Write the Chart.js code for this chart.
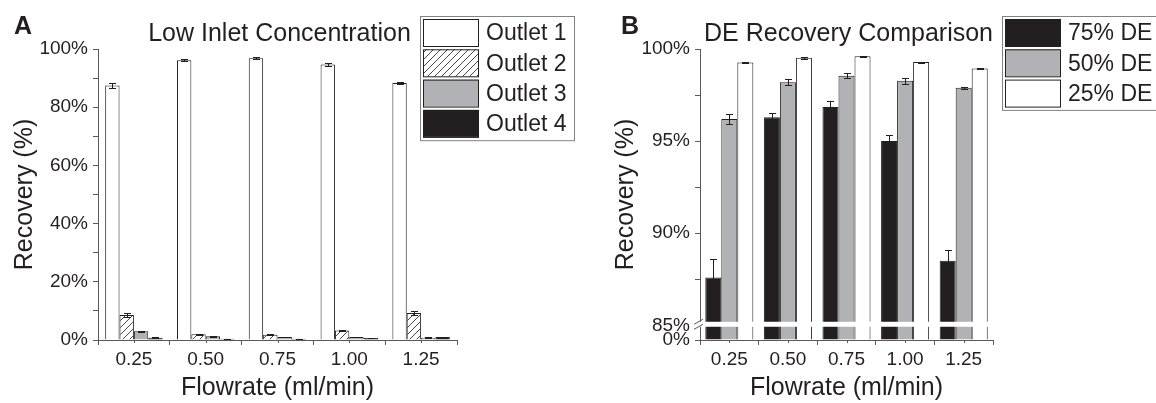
<!DOCTYPE html>
<html lang="en">
<head>
    <meta charset="UTF-8">
    <title>Recovery vs Flowrate</title>
    <script src="https://cdn.jsdelivr.net/npm/chart.js"></script>
    <style>
        body {
            margin: 0;
            background: #fff;
        }
        .panel {
            position: absolute;
            top: 0;
            width: 578px;
            height: 403px;
        }
        #panel-a { left: 0; }
        #panel-b { left: 578px; }
    </style>
</head>
<body>
    <div class="panel" id="panel-a"><canvas id="chart-a" width="578" height="403"></canvas></div>
    <div class="panel" id="panel-b"><canvas id="chart-b" width="578" height="403"></canvas></div>

    <script>
        // categories (flowrate, ml/min)
        const flowrates = ['0.25', '0.50', '0.75', '1.00', '1.25'];

        // panel A - low inlet concentration, recovery (%) per outlet
        const outlet1 = [87.5, 96.1, 96.8, 94.7, 88.3];
        const outlet1Err = [0.9, 0.3, 0.4, 0.4, 0.4];
        const outlet2 = [8.6, 2.0, 1.8, 3.3, 9.3];
        const outlet2Err = [0.8, 0.2, 0.2, 0.3, 0.7];
        const outlet3 = [3.0, 1.3, 1.0, 1.0, 0.8];
        const outlet3Err = [0.2, 0.1, 0.1, 0.1, 0.1];
        const outlet4 = [0.8, 0.4, 0.4, 0.7, 1.0];
        const outlet4Err = [0.1, 0.1, 0.1, 0.1, 0.1];

        // panel B - DE recovery comparison (%)
        const de75 = [87.6, 96.3, 96.85, 95.0, 88.5];
        const de75Err = [1.0, 0.2, 0.35, 0.35, 0.6];
        const de50 = [96.2, 98.2, 98.55, 98.27, 97.9];
        const de50Err = [0.25, 0.15, 0.15, 0.15, 0.05];
        const de25 = [99.27, 99.53, 99.6, 99.29, 98.94];
        const de25Err = [0.03, 0.05, 0.02, 0.03, 0.04];

        // broken axis in B: bottom value stands for 0%
        const bAxisMin = 84.2;
        const bTicks = [84.2, 85, 87.5, 90, 92.5, 95, 97.5, 100];

        const FONT = '"Liberation Sans", Arial, sans-serif';
        const INK = '#231f20';
        const AXIS = '#58595b';
        const GREY = '#b1b2b5';

        Chart.defaults.font.family = FONT;
        Chart.defaults.color = INK;

        // diagonal hatch for Outlet 2
        function makeHatch() {
            const c = document.createElement('canvas');
            c.width = 7; c.height = 7;
            const g = c.getContext('2d');
            g.fillStyle = '#fff';
            g.fillRect(0, 0, 7, 7);
            g.strokeStyle = '#333';
            g.lineWidth = 0.9;
            g.beginPath();
            g.moveTo(0, 7); g.lineTo(7, 0);
            g.moveTo(-1, 1); g.lineTo(1, -1);
            g.moveTo(6, 8); g.lineTo(8, 6);
            g.stroke();
            return g.createPattern(c, 'repeat');
        }
        const hatch = makeHatch();

        const errorBars = {
            id: 'errorBars',
            afterDatasetsDraw(chart) {
                const ctx = chart.ctx;
                const y = chart.scales.y;
                ctx.save();
                ctx.strokeStyle = INK;
                ctx.lineWidth = 1;
                chart.data.datasets.forEach((ds, i) => {
                    const meta = chart.getDatasetMeta(i);
                    meta.data.forEach((bar, j) => {
                        const v = ds.data[j], e = ds.errors[j];
                        const yt = Math.round(y.getPixelForValue(v + e)) + 0.5;
                        const yb = Math.round(y.getPixelForValue(v - e)) + 0.5;
                        const x = Math.round(bar.x) + 0.5;
                        ctx.beginPath();
                        ctx.moveTo(x, yt); ctx.lineTo(x, yb);
                        ctx.moveTo(x - 3.5, yt); ctx.lineTo(x + 3.5, yt);
                        ctx.moveTo(x - 3.5, yb); ctx.lineTo(x + 3.5, yb);
                        ctx.stroke();
                    });
                });
                ctx.restore();
            }
        };

        // small ticks under each category centre
        const centreTicks = {
            id: 'centreTicks',
            afterDraw(chart) {
                const ctx = chart.ctx, xs = chart.scales.x;
                const b = chart.chartArea.bottom;
                ctx.save();
                ctx.strokeStyle = AXIS;
                ctx.lineWidth = 1;
                chart.data.labels.forEach((l, i) => {
                    const x = Math.round(xs.getPixelForValue(i)) + 0.5;
                    ctx.beginPath();
                    ctx.moveTo(x, b); ctx.lineTo(x, b + 3);
                    ctx.stroke();
                });
                ctx.restore();
            }
        };

        // panel letter, title and boxed legend
        const panelDecor = {
            id: 'panelDecor',
            afterDraw(chart, args, opts) {
                const ctx = chart.ctx, ca = chart.chartArea;
                ctx.save();
                ctx.fillStyle = INK;
                ctx.textBaseline = 'alphabetic';
                ctx.font = 'bold 25px ' + FONT;
                ctx.textAlign = 'left';
                ctx.fillText(opts.letter, opts.letterX, 34);
                ctx.font = '25px ' + FONT;
                ctx.textAlign = 'center';
                ctx.fillText(opts.title, (ca.left + ca.right) / 2 + 2, 41);

                // legend
                const dsets = chart.data.datasets;
                const lx = ca.right + opts.legendDx, ly = 16;
                const rowH = 30.3;
                const boxW = opts.legendW, boxH = dsets.length * rowH + 3;
                ctx.strokeStyle = '#808285';
                ctx.lineWidth = 1;
                ctx.strokeRect(lx + 0.5, ly + 0.5, boxW, boxH);
                ctx.font = '23px ' + FONT;
                ctx.textAlign = 'left';
                ctx.textBaseline = 'middle';
                dsets.forEach((ds, i) => {
                    const sy = ly + 3 + i * rowH;
                    ctx.fillStyle = ds.backgroundColor;
                    ctx.fillRect(lx + 3, sy, 55, 27);
                    ctx.strokeStyle = INK;
                    ctx.strokeRect(lx + 3.5, sy + 0.5, 55, 27);
                    ctx.fillStyle = INK;
                    ctx.fillText(ds.label, lx + 66, sy + 15);
                });
                ctx.restore();
            }
        };

        // white gap and slashes marking the broken axis
        const axisBreak = {
            id: 'axisBreak',
            afterDraw(chart) {
                const ctx = chart.ctx, ca = chart.chartArea;
                const p = chart.scales.y.getPixelForValue(85);
                ctx.save();
                ctx.fillStyle = '#fff';
                ctx.fillRect(ca.left - 5, p - 3.5, ca.right - ca.left + 6, 5);
                ctx.strokeStyle = AXIS;
                ctx.lineWidth = 1;
                ctx.beginPath();
                ctx.moveTo(ca.left - 6, p - 1); ctx.lineTo(ca.left + 3, p - 6);
                ctx.moveTo(ca.left - 6, p + 4); ctx.lineTo(ca.left + 3, p - 1);
                ctx.stroke();
                ctx.restore();
            }
        };

        function barSet(label, data, errors, color) {
            return {
                label: label,
                data: data,
                errors: errors,
                backgroundColor: color,
                borderColor: INK,
                borderWidth: 1,
                barPercentage: 1.0
            };
        }

        function xAxis() {
            return {
                grid: { drawOnChartArea: false, tickLength: 5, color: AXIS, offset: true },
                border: { color: AXIS, width: 1 },
                ticks: { font: { size: 19 }, color: INK, padding: 3, maxRotation: 0 },
                title: { display: true, text: 'Flowrate (ml/min)', font: { size: 25 }, color: INK, padding: { top: -2, bottom: 0 } },
                afterFit: (s) => { s.height = 63; }
            };
        }

        new Chart(document.getElementById('chart-a'), {
            type: 'bar',
            data: {
                labels: flowrates,
                datasets: [
                    barSet('Outlet 1', outlet1, outlet1Err, '#ffffff'),
                    barSet('Outlet 2', outlet2, outlet2Err, hatch),
                    barSet('Outlet 3', outlet3, outlet3Err, GREY),
                    barSet('Outlet 4', outlet4, outlet4Err, INK)
                ]
            },
            options: {
                responsive: false,
                animation: false,
                layout: { padding: { left: 10, top: 49, right: 121, bottom: 0 } },
                datasets: { bar: { categoryPercentage: 0.8 } },
                plugins: {
                    legend: { display: false },
                    tooltip: { enabled: false },
                    panelDecor: { letter: 'A', letterX: 14, title: 'Low Inlet Concentration', legendDx: -37, legendW: 154 }
                },
                scales: {
                    x: xAxis(),
                    y: {
                        min: 0,
                        max: 100,
                        grid: { drawOnChartArea: false, tickLength: 5, color: AXIS },
                        border: { color: AXIS, width: 1 },
                        ticks: {
                            stepSize: 10,
                            font: { size: 19 },
                            color: INK,
                            padding: 5,
                            callback: (v) => (v % 20 === 0 ? v + '%' : '')
                        },
                        title: { display: true, text: 'Recovery (%)', font: { size: 25 }, color: INK, padding: { top: 0, bottom: 0 } },
                        afterFit: (s) => { s.width = 88; }
                    }
                }
            },
            plugins: [errorBars, centreTicks, panelDecor]
        });

        new Chart(document.getElementById('chart-b'), {
            type: 'bar',
            data: {
                labels: flowrates,
                datasets: [
                    barSet('75% DE', de75, de75Err, INK),
                    barSet('50% DE', de50, de50Err, GREY),
                    barSet('25% DE', de25, de25Err, '#ffffff')
                ]
            },
            options: {
                responsive: false,
                animation: false,
                layout: { padding: { left: 33, top: 49, right: 163, bottom: 0 } },
                datasets: { bar: { categoryPercentage: 0.82, base: bAxisMin } },
                plugins: {
                    legend: { display: false },
                    tooltip: { enabled: false },
                    panelDecor: { letter: 'B', letterX: 43, title: 'DE Recovery Comparison', legendDx: 9, legendW: 200 }
                },
                scales: {
                    x: xAxis(),
                    y: {
                        min: bAxisMin,
                        max: 100,
                        afterBuildTicks: (s) => { s.ticks = bTicks.map((v) => ({ value: v })); },
                        grid: { drawOnChartArea: false, tickLength: 5, color: AXIS },
                        border: { color: AXIS, width: 1 },
                        ticks: {
                            font: { size: 19 },
                            color: INK,
                            padding: 5,
                            callback: (v) => (v === bAxisMin ? '0%' : (v % 5 === 0 ? v + '%' : ''))
                        },
                        title: { display: true, text: 'Recovery (%)', font: { size: 25 }, color: INK, padding: { top: 0, bottom: 0 } },
                        afterFit: (s) => { s.width = 89; }
                    }
                }
            },
            plugins: [errorBars, centreTicks, panelDecor, axisBreak]
        });
    </script>
</body>
</html>
